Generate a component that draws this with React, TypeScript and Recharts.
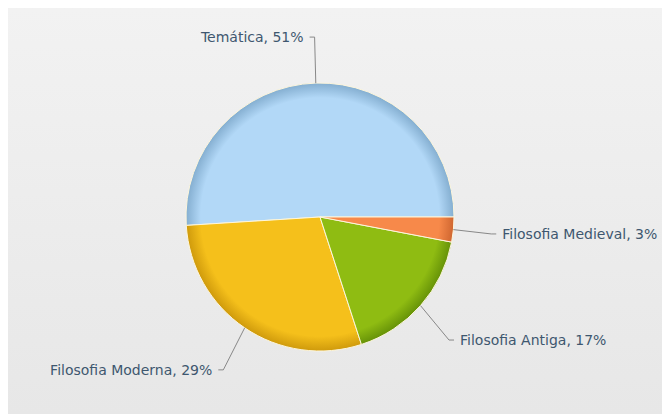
import { PieChart, Pie, Cell } from "recharts"

const categories = ["Temática", "Filosofia Moderna", "Filosofia Antiga", "Filosofia Medieval"]
const shares = [51, 29, 17, 3]
const colors = ["#b2d8f7", "#f5c01b", "#8fbc12", "#f7894a"]
const edgeColors = ["#84aed0", "#cf9a0c", "#669208", "#cf6630"]

const chartData = categories.map((name, i) => ({ name, value: shares[i] }))

const CX = 312
const CY = 209
const R = 134

const RAD = Math.PI / 180

// eslint-disable-next-line @typescript-eslint/no-explicit-any
const renderLabel = (props: any) => {
  const { cx, cy, midAngle, outerRadius, name, percent } = props
  const cos = Math.cos(-midAngle * RAD)
  const sin = Math.sin(-midAngle * RAD)
  const ex = cx + outerRadius * cos
  const ey = cy + outerRadius * sin
  const lx = cx + (outerRadius + 38) * cos
  const ly = cy + (outerRadius + 46) * sin + (sin > 0.3 ? 4 : 0)
  const left = cos < 0
  const tx = left ? lx - 5 : lx + 5
  return (
    <g>
      <path
        d={`M${ex},${ey}L${lx},${ly}L${tx},${ly}`}
        stroke="#888"
        strokeWidth={1}
        fill="none"
      />
      <text
        x={left ? tx - 6 : tx + 6}
        y={ly}
        dy={5}
        textAnchor={left ? "end" : "start"}
        fill="#3e576f"
        fontSize={14}
        fontFamily="DejaVu Sans, Verdana, sans-serif"
      >
        {`${name}, ${Math.round(percent * 100)}%`}
      </text>
    </g>
  )
}

export default function App() {
  return (
    <div
      style={{
        width: 662,
        height: 406,
        background: "linear-gradient(#f2f2f2, #e7e7e7)",
      }}
    >
      <style>{`.pie-shadow .recharts-pie-sectors { filter: drop-shadow(0px 1px 3px rgba(0,0,0,0.3)); }`}</style>
      <PieChart
        width={662}
        height={406}
        className="pie-shadow"
        margin={{ top: 0, right: 0, bottom: 0, left: 0 }}
      >
        <defs>
          {colors.map((c, i) => (
            <radialGradient
              key={i}
              id={`grad${i}`}
              gradientUnits="userSpaceOnUse"
              cx={CX}
              cy={CY}
              r={R}
            >
              <stop offset="0%" stopColor={c} />
              <stop offset="89%" stopColor={c} />
              <stop offset="100%" stopColor={edgeColors[i]} />
            </radialGradient>
          ))}
        </defs>
        <Pie
          data={chartData}
          dataKey="value"
          nameKey="name"
          cx={CX}
          cy={CY}
          outerRadius={R}
          startAngle={0}
          endAngle={360}
          stroke="#fdf6dc"
          strokeWidth={1}
          label={renderLabel}
          labelLine={false}
          isAnimationActive={false}
        >
          {chartData.map((d, i) => (
            <Cell key={d.name} fill={`url(#grad${i})`} />
          ))}
        </Pie>
      </PieChart>
    </div>
  )
}
